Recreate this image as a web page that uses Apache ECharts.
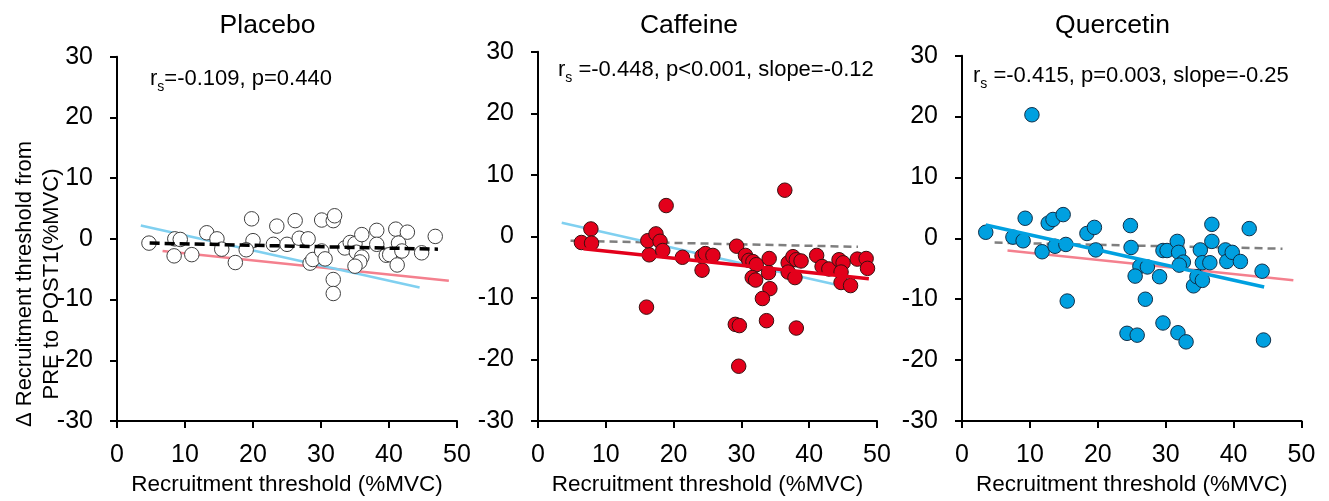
<!DOCTYPE html>
<html><head><meta charset="utf-8">
<script src="https://cdn.jsdelivr.net/npm/echarts@6/dist/echarts.min.js"></script>
<style>html,body{margin:0;padding:0;background:#fff}#c{width:1329px;height:501px}</style>
</head><body><div id="c"></div>
<script>
// ---------- data ----------
const panelTitles = ['Placebo', 'Caffeine', 'Quercetin'];
const statSuffix = ['=-0.109, p=0.440', ' =-0.448, p<0.001, slope=-0.12', ' =-0.415, p=0.003, slope=-0.25'];
const xAxisTitle = 'Recruitment threshold (%MVC)';
const yAxisTitle = 'Δ Recruitment threshold from\nPRE to POST1(%MVC)';
const xTickMin = 0, xTickMax = 50, xTickStep = 10;
const yTickMin = -30, yTickMax = 30, yTickStep = 10;

const placeboX = [4.7, 8.5, 9.3, 8.4, 11.0, 13.2, 14.7, 15.4, 17.4, 19.8, 20.0, 19.0, 23.5, 23.0, 25.0, 26.2, 26.8, 28.1, 28.4, 28.8, 30.1, 31.8, 32.0, 30.1, 30.6, 31.8, 31.8, 33.5, 34.3, 35.0, 35.2, 36.0, 36.0, 35.7, 35.0, 38.2, 38.2, 39.6, 40.1, 41.0, 42.7, 41.4, 41.9, 41.2, 44.8, 46.8];
const placeboY = [-0.7, 0.0, -0.1, -2.8, -2.6, 1.0, 0.0, -1.7, -3.9, 3.3, -0.3, -1.8, 2.1, -0.9, -0.9, 3.0, 0.1, 0.0, -4.0, -3.4, 3.1, 3.0, 3.8, -2.0, -3.3, -6.7, -9.0, -1.5, -0.6, -0.8, -2.2, 0.7, -3.0, -3.8, -4.5, 1.4, -0.9, -2.7, -2.6, 1.6, 1.1, -0.7, -2.0, -4.3, -2.3, 0.4];

const caffeineX = [6.4, 7.8, 7.9, 16.0, 16.4, 16.2, 17.4, 18.0, 18.4, 18.9, 21.3, 24.2, 24.7, 25.8, 24.2, 29.3, 30.6, 31.1, 31.7, 32.2, 31.6, 32.1, 34.1, 34.0, 34.2, 33.1, 33.7, 29.1, 29.7, 29.6, 36.4, 38.1, 36.9, 37.6, 38.1, 36.9, 37.9, 38.8, 41.1, 41.9, 42.9, 44.4, 45.0, 44.7, 44.7, 46.1, 47.1, 48.4, 48.6];
const caffeineY = [-1.0, 1.2, -1.1, -11.5, -3.0, -0.7, 0.4, -0.8, -2.3, 5.0, -3.4, -3.2, -2.8, -3.1, -5.5, -1.6, -3.1, -3.9, -4.1, -4.6, -6.7, -7.1, -3.6, -5.9, -8.5, -10.1, -13.7, -14.3, -14.5, -21.1, 7.5, -14.9, -4.3, -3.3, -3.8, -5.8, -6.7, -4.0, -3.1, -4.9, -5.3, -3.8, -4.3, -5.8, -7.5, -8.0, -3.7, -3.6, -5.2];

const quercetinX = [3.5, 7.5, 9.0, 9.3, 10.3, 11.8, 12.7, 13.4, 14.9, 13.7, 15.3, 15.5, 18.4, 19.5, 19.7, 24.8, 24.9, 24.3, 25.8, 26.2, 27.3, 25.5, 27.0, 29.1, 29.6, 29.6, 30.2, 31.7, 31.9, 32.6, 32.0, 31.8, 33.0, 34.1, 34.6, 35.4, 35.1, 35.4, 36.5, 36.8, 36.8, 38.8, 39.0, 39.8, 41.0, 42.3, 44.2, 44.4];
const quercetinY = [1.0, 0.2, -0.4, 3.3, 20.3, -2.2, 2.5, 3.1, 3.9, -1.3, -1.0, -10.3, 0.8, 1.8, -1.9, 2.1, -1.5, -15.6, -15.9, -4.6, -4.7, -6.2, -10.0, -6.3, -13.9, -2.0, -2.0, -0.5, -2.3, -3.9, -4.4, -15.5, -17.0, -7.8, -6.3, -6.9, -1.9, -4.0, -4.0, -0.5, 2.3, -1.9, -3.8, -2.3, -3.8, 1.6, -5.4, -16.7];

// regression lines (endpoints)
const placeboFitX = [4.8, 47.2], placeboFitY = [-0.7, -1.7];
const caffeineFitX = [6.7, 48.8], caffeineFitY = [-2.0, -6.9];
const quercetinFitX = [3.5, 44.5], quercetinFitY = [2.2, -8.0];

// ---------- build ----------
const FONT = 'Liberation Sans, Arial, sans-serif';
const zip = (a, b) => a.map((v, i) => [v, b[i]]);

const grids = [
  { left: 117, top: 56.7, width: 340, height: 370 },
  { left: 538, top: 51.7, width: 339, height: 370 },
  { left: 962, top: 55.7, width: 339.5, height: 371 }
];

const xAxes = grids.map((g, i) => ({
  type: 'value', gridIndex: i, min: xTickMin, max: xTickMax, interval: xTickStep,
  name: xAxisTitle, nameLocation: 'middle', nameGap: 52,
  nameTextStyle: { fontFamily: FONT, fontSize: 22.5, color: '#000' },
  axisLine: { show: true, onZero: false, lineStyle: { color: '#000', width: 2 } },
  axisTick: { show: true, length: 7, lineStyle: { color: '#000', width: 2 } },
  axisLabel: { fontFamily: FONT, fontSize: 25, color: '#000', margin: 22 },
  splitLine: { show: false }
}));
const yAxes = grids.map((g, i) => ({
  type: 'value', gridIndex: i, min: yTickMin, max: yTickMax, interval: yTickStep,
  axisLine: { show: true, onZero: false, lineStyle: { color: '#000', width: 2 } },
  axisTick: { show: true, length: 7, lineStyle: { color: '#000', width: 2 } },
  axisLabel: { fontFamily: FONT, fontSize: 25, color: '#000', margin: 24 },
  splitLine: { show: false }
}));

const pointSets = [zip(placeboX, placeboY), zip(caffeineX, caffeineY), zip(quercetinX, quercetinY)];
const fits = [zip(placeboFitX, placeboFitY), zip(caffeineFitX, caffeineFitY), zip(quercetinFitX, quercetinFitY)];
const pointFill = ['#ffffff', '#e3001b', '#00a0e0'];
const pointBorder = ['#404040', '#3a1010', '#10304a'];

const strongFit = [
  { color: '#000000', width: 3.5, type: [10, 5] },
  { color: '#e3001b', width: 3.5, type: 'solid' },
  { color: '#00a0e0', width: 3.5, type: 'solid' }
];
const fadedFit = [
  { color: '#7f7f7f', width: 2.5, type: [8, 5] },
  { color: '#f4808e', width: 2.5, type: 'solid' },
  { color: '#80d0f0', width: 2.5, type: 'solid' }
];

const series = [];
for (let p = 0; p < 3; p++) {
  for (let f = 0; f < 3; f++) {
    if (f === p) continue;
    series.push({ type: 'line', xAxisIndex: p, yAxisIndex: p, data: fits[f], symbol: 'none',
      lineStyle: fadedFit[f], z: 1, silent: true });
  }
  series.push({ type: 'scatter', xAxisIndex: p, yAxisIndex: p, data: pointSets[p], symbolSize: 14.5,
    itemStyle: { color: pointFill[p], borderColor: pointBorder[p], borderWidth: 1, opacity: 1 }, z: 2 });
  series.push({ type: 'line', xAxisIndex: p, yAxisIndex: p, data: fits[p], symbol: 'none',
    lineStyle: strongFit[p], z: 3, silent: true });
}

const titlePos = [[267.5, 26], [689, 26], [1112.5, 26]];
const statPos = [[150, 79], [558, 70], [973, 76]];
const graphics = [];
for (let p = 0; p < 3; p++) {
  graphics.push({ type: 'text', x: titlePos[p][0], y: titlePos[p][1], z: 10,
    style: { text: panelTitles[p], fontFamily: FONT, fontSize: 26.5, fill: '#000', textAlign: 'center', textVerticalAlign: 'middle' } });
  graphics.push({ type: 'text', x: statPos[p][0], y: statPos[p][1], z: 10,
    style: { text: '{r|r}{s|s}{t|' + statSuffix[p] + '}', fill: '#000', textAlign: 'left', textVerticalAlign: 'middle',
      rich: {
        r: { fontFamily: FONT, fontSize: 22, lineHeight: 30, verticalAlign: 'middle', fill: '#000' },
        s: { fontFamily: FONT, fontSize: 14, lineHeight: 14, verticalAlign: 'bottom', fill: '#000' },
        t: { fontFamily: FONT, fontSize: 22, lineHeight: 30, verticalAlign: 'middle', fill: '#000' }
      } } });
}
graphics.push({ type: 'text', x: 38, y: 284, rotation: Math.PI / 2, z: 10,
  style: { text: yAxisTitle, fontFamily: FONT, fontSize: 22, lineHeight: 27, fill: '#000', textAlign: 'center', textVerticalAlign: 'middle' } });

const chart = echarts.init(document.getElementById('c'), null, { renderer: 'canvas' });
chart.setOption({
  animation: false,
  backgroundColor: '#ffffff',
  grid: grids.map(g => Object.assign({ containLabel: false }, g)),
  xAxis: xAxes,
  yAxis: yAxes,
  series: series,
  graphic: graphics
});
</script>
</body></html>
